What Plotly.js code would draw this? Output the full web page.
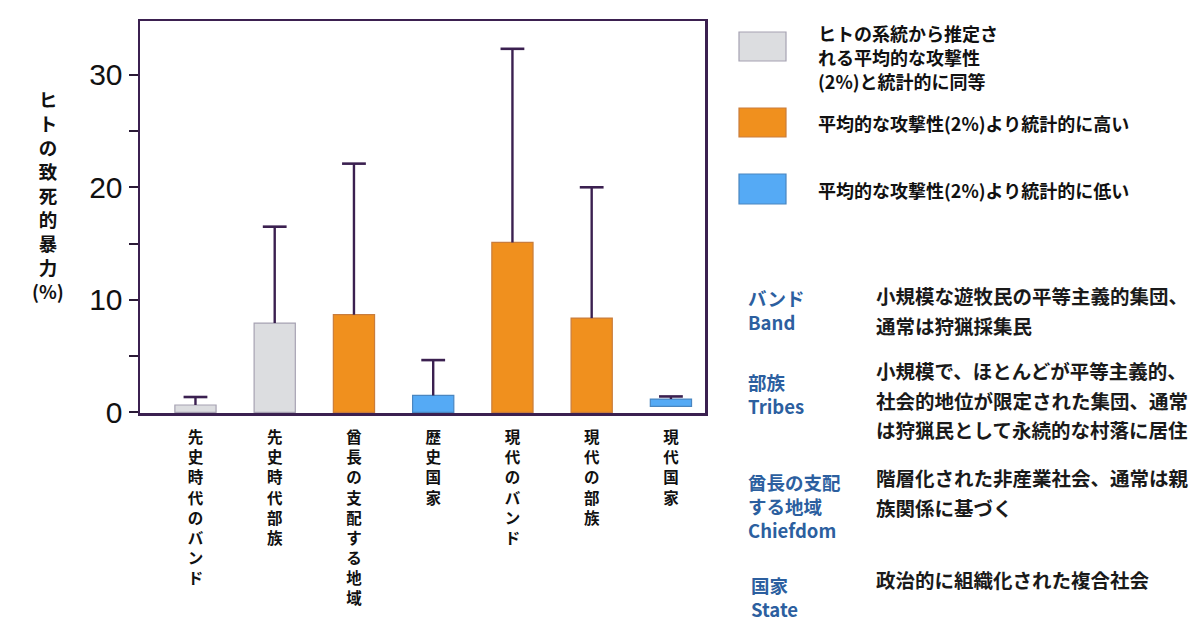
<!DOCTYPE html>
<html>
<head>
<meta charset="utf-8">
<script src="https://cdn.plot.ly/plotly-3.0.1.min.js"></script>
<style>
  html, body { margin: 0; padding: 0; background: #fff; }
  #chart { width: 1200px; height: 638px; }
</style>
</head>
<body>
<div id="chart"></div>
<script>
// data
const categories = ["先史時代のバンド", "先史時代部族", "酋長の支配する地域", "歴史国家", "現代のバンド", "現代の部族", "現代国家"];
const barTop = [0.66, 7.94, 8.68, 1.51, 15.1, 8.38, 1.19];
const barBase = [0, 0, 0, 0, 0, 0, 0.53];
const upperBound = [1.37, 16.5, 22.1, 4.65, 32.3, 20.0, 1.42];
const groups = ["same", "same", "high", "low", "high", "high", "low"];

const legendKeys = ["same", "high", "low"];
const legendLabels = [
    ["ヒトの系統から推定さ", "れる平均的な攻撃性", "(2%)と統計的に同等"],
    ["平均的な攻撃性(2%)より統計的に高い"],
    ["平均的な攻撃性(2%)より統計的に低い"]
];

const termLabels = [
    ["バンド", "Band"],
    ["部族", "Tribes"],
    ["酋長の支配", "する地域", "Chiefdom"],
    ["国家", "State"]
];
const termDescriptions = [
    ["小規模な遊牧民の平等主義的集団、", "通常は狩猟採集民"],
    ["小規模で、ほとんどが平等主義的、", "社会的地位が限定された集団、通常", "は狩猟民として永続的な村落に居住"],
    ["階層化された非産業社会、通常は親", "族関係に基づく"],
    ["政治的に組織化された複合社会"]
];

const yTitle = "ヒトの致死的暴力";

// styles
const fills = { same: "#dcdde0", high: "#f0901e", low: "#55aaf5" };
const borders = { same: "#a6a2b2", high: "#c97d3c", low: "#4a86c0" };
const frameColor = "#3b2050";
const jp = "'Noto Sans CJK JP', 'Noto Sans', sans-serif";

// plot area in pixels
const L = 140, R = 705, T = 21, B = 413;
const W = 1200, H = 638;
const px = x => (x - L) / (R - L);
const py = y => (B - y) / (B - T);

const traces = [];

traces.push({
    type: "bar",
    x: categories,
    y: barTop.map((v, i) => v - barBase[i]),
    base: barBase,
    width: 0.52,
    marker: {
        color: groups.map(g => fills[g]),
        line: { color: groups.map(g => borders[g]), width: 1.2 }
    },
    showlegend: false,
    hoverinfo: "skip"
});

// whiskers: stem from bar top to upper bound, cap as a marker
traces.push({
    type: "scatter",
    mode: "markers",
    x: categories,
    y: upperBound,
    marker: {
        symbol: "line-ew-open",
        size: 17,
        color: frameColor,
        line: { color: frameColor, width: 2.6 }
    },
    error_y: {
        type: "data",
        symmetric: false,
        array: upperBound.map(() => 0),
        arrayminus: upperBound.map((u, i) => u - barTop[i]),
        width: 0,
        thickness: 2.4,
        color: frameColor
    },
    cliponaxis: false,
    showlegend: false,
    hoverinfo: "skip"
});

const annotations = [];
const shapes = [];

// y axis title, stacked characters
annotations.push({
    xref: "paper", yref: "paper",
    x: px(48), y: py(84),
    xanchor: "center", yanchor: "top",
    text: yTitle.split("").join("<br>") + "<br>(%)",
    showarrow: false,
    font: { family: jp, size: 18.5, weight: "bold", color: "#111" }
});

// legend boxes and texts
const legendBoxes = [[32, 61], [108, 137], [174, 204]];
const legendTextY = [33, 123, 190];
legendKeys.forEach((k, i) => {
    shapes.push({
        type: "rect", xref: "paper", yref: "paper",
        x0: px(739), x1: px(786),
        y0: py(legendBoxes[i][1]), y1: py(legendBoxes[i][0]),
        fillcolor: fills[k],
        line: { color: borders[k], width: 1.2 }
    });
    legendLabels[i].forEach((t, j) => {
        annotations.push({
            xref: "paper", yref: "paper",
            x: px(816), y: py(legendTextY[i] + j * 24),
            xanchor: "left", yanchor: "middle",
            text: t,
            showarrow: false,
            font: { family: jp, size: 18, weight: "bold", color: "#111" }
        });
    });
});

// term glossary
const termTop = [283, 367, 467, 570];
const termX = [746, 746, 746, 749];
termLabels.forEach((lines, g) => {
    annotations.push({
        xref: "paper", yref: "paper",
        x: px(termX[g]), y: py(termTop[g]),
        xanchor: "left", yanchor: "top", align: "left",
        text: lines.join("<br>"), showarrow: false,
        font: { family: jp, size: 18.5, weight: "bold", color: "#2c5f9f" }
    });
});

const descTop = [295, 370, 477, 579];
termDescriptions.forEach((lines, g) => {
    lines.forEach((t, j) => {
        annotations.push({
            xref: "paper", yref: "paper",
            x: px(874), y: py(descTop[g] + j * 30),
            xanchor: "left", yanchor: "middle",
            text: t, showarrow: false,
            font: { family: jp, size: 19.5, weight: "bold", color: "#1a1a1a" }
        });
    });
});

const layout = {
    width: W,
    height: H,
    margin: { l: L, r: W - R, t: T, b: H - B, pad: 0 },
    paper_bgcolor: "#fff",
    plot_bgcolor: "#fff",
    showlegend: false,
    xaxis: {
        type: "category",
        range: [-0.70, 6.43],
        tickvals: categories,
        ticktext: categories.map(c => c.split("").join("<br>")),
        ticks: "",
        ticklabelstandoff: 9,
        tickfont: { family: jp, size: 15.5, weight: "bold", color: "#111" },
        showgrid: false,
        zeroline: false,
        showline: true,
        mirror: true,
        linecolor: frameColor,
        linewidth: 2.5
    },
    yaxis: {
        range: [-0.05, 34.77],
        tick0: 0,
        dtick: 10,
        ticks: "outside",
        ticklen: 9,
        tickwidth: 2,
        tickcolor: "#2a1a36",
        minor: { dtick: 5, ticks: "outside", ticklen: 9, tickwidth: 2, tickcolor: "#2a1a36" },
        tickfont: { family: "'Liberation Sans', Arial, sans-serif", size: 30, color: "#111" },
        showgrid: false,
        zeroline: false,
        showline: true,
        mirror: true,
        linecolor: frameColor,
        linewidth: 2.5
    },
    annotations: annotations,
    shapes: shapes
};

Plotly.newPlot("chart", traces, layout, { displayModeBar: false, staticPlot: true });
</script>
</body>
</html>
